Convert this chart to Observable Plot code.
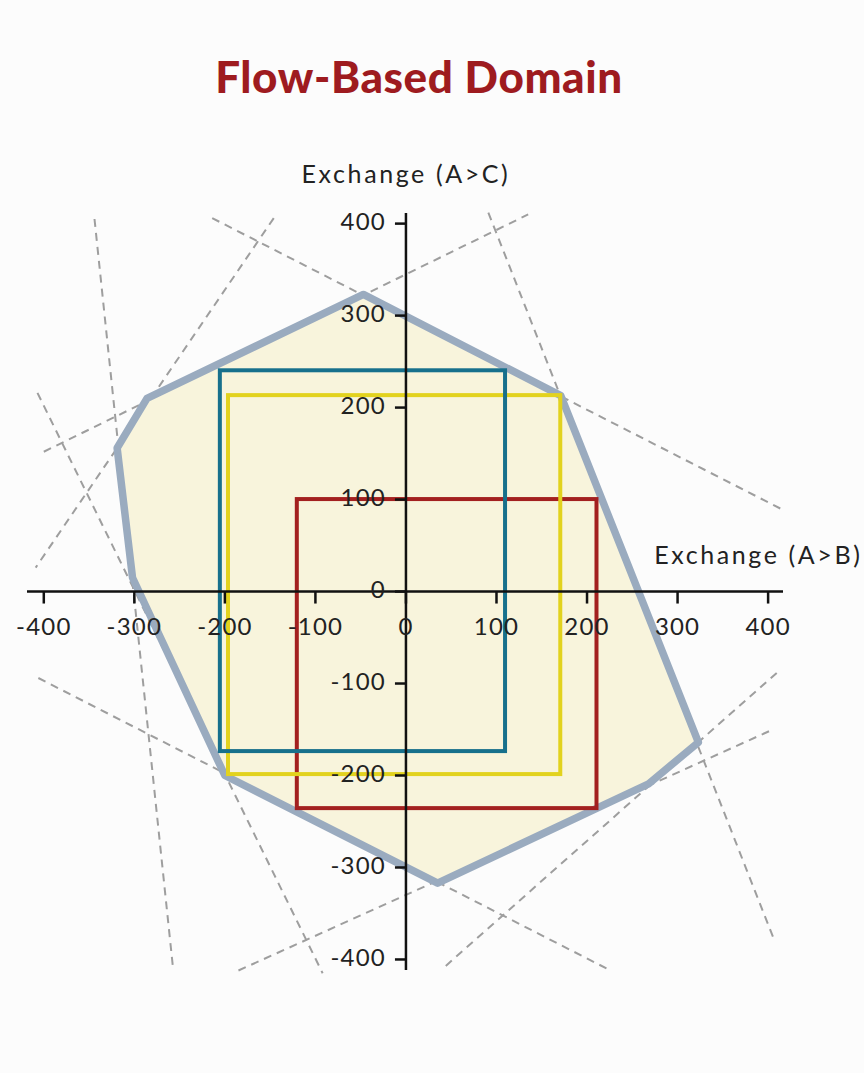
<!DOCTYPE html>
<html>
<head>
<meta charset="utf-8">
<script src="https://cdn.jsdelivr.net/npm/d3@7"></script>
<script src="https://cdn.jsdelivr.net/npm/@observablehq/plot@0.6"></script>
<style>
  html, body { margin: 0; padding: 0; background: #fcfcfc; }
  #wrap { position: relative; width: 864px; height: 1073px; overflow: hidden; }
  #title { position: absolute; left: 0; top: 51px; width: 838px; text-align: center;
           font-family: Lato, "Open Sans", sans-serif; font-weight: 900; font-size: 44px;
           letter-spacing: 0.6px; line-height: 50px; color: #9e1b1f; }
  #chart { position: absolute; left: 0; top: 130px; }
  #chart svg text { letter-spacing: 1.2px; }
  #chart svg .axislabel text { letter-spacing: 2.6px; }
</style>
</head>
<body>
<div id="wrap">
  <div id="title">Flow-Based Domain</div>
  <div id="chart"></div>
</div>
<script>
// ---- data ----
const xTicks = [-400, -300, -200, -100, 0, 100, 200, 300, 400];
const yTicks = [-400, -300, -200, -100, 0, 100, 200, 300, 400];
const xLabel = "Exchange (A>B)";
const yLabel = "Exchange (A>C)";

// flow-based domain polygon vertices
const polyX = [-47, 171, 323, 268, 35, -200, -302, -319, -286];
const polyY = [323, 213, -164, -209, -317, -200, 15, 156, 210];

// constraint lines (dashed), endpoints
const lineX1 = [-344, -407, -214, -146, -400, 91, -406, -185, 44];
const lineY1 = [405, 216, 406, 406, 152, 412, -94, -412, -407];
const lineX2 = [-257, -92, 414, -409, 135, 406, 222, 403, 410];
const lineY2 = [-412, -415, 90, 26, 410, -377, -410, -151, -88];

// boxes
const boxNames = ["red", "yellow", "blue"];
const boxX1 = [-120, -196, -205];
const boxX2 = [211, 171, 110];
const boxY1 = [-236, -199, -174];
const boxY2 = [100, 213, 240];
const boxColors = ["#a3201f", "#e2d21e", "#17708c"];

// ---- build tables ----
const poly = polyX.map((x, i) => ({x, y: polyY[i]}));
const lines = lineX1.map((x1, i) => ({x1, y1: lineY1[i], x2: lineX2[i], y2: lineY2[i]}));
const boxes = boxNames.map((name, i) => ({name, x1: boxX1[i], x2: boxX2[i], y1: boxY1[i], y2: boxY2[i], color: boxColors[i]}));

const tickDown = {draw(ctx) { ctx.moveTo(0, 0); ctx.lineTo(0, 12); }};
const tickLeft = {draw(ctx) { ctx.moveTo(0, 0); ctx.lineTo(-11, 0); }};

const font = "Lato, 'Open Sans', sans-serif";

const chart = Plot.plot({
  width: 864,
  height: 943,
  marginLeft: 27,
  marginRight: 81,
  marginTop: 83,
  marginBottom: 103,
  x: {domain: [-418, 417], axis: null},
  y: {domain: [-412, 411], axis: null},
  style: {background: "transparent", fontFamily: font, overflow: "visible"},
  marks: [
    Plot.link(lines, {x1: "x1", y1: "y1", x2: "x2", y2: "y2", stroke: "#9e9e9e", strokeWidth: 2, strokeDasharray: "8,6"}),
    Plot.line(poly, {x: "x", y: "y", curve: "linear-closed", fill: "#f8f4dc", stroke: "#9aabbf", strokeWidth: 7.5, strokeLinejoin: "round"}),
    ...boxes.map(b => Plot.rect([b], {x1: "x1", x2: "x2", y1: "y1", y2: "y2", fill: "none", stroke: b.color, strokeWidth: 4})),
    Plot.ruleY([0], {stroke: "#111", strokeWidth: 2.5}),
    Plot.ruleX([0], {stroke: "#111", strokeWidth: 2.5}),
    Plot.dot(xTicks, {x: d => d, y: 0, symbol: tickDown, fill: "none", stroke: "#111", strokeWidth: 2.5}),
    Plot.dot(yTicks, {x: 0, y: d => d, symbol: tickLeft, fill: "none", stroke: "#111", strokeWidth: 2.5}),
    Plot.text(xTicks, {x: d => d, y: 0, text: d => String(d), dy: 36, fontSize: 24, fill: "#222"}),
    Plot.text(yTicks, {x: 0, y: d => d, text: d => String(d), textAnchor: "end", dx: -20, dy: -1, fontSize: 24, fill: "#222"}),
    Plot.text([yLabel], {x: 0, frameAnchor: "top", text: d => d, dy: -48, fontSize: 25, fill: "#222", className: "axislabel"}),
    Plot.text([xLabel], {y: 0, frameAnchor: "right", text: d => d, textAnchor: "end", dx: 79, dy: -36, fontSize: 25, fill: "#222", className: "axislabel"})
  ]
});
document.getElementById("chart").appendChild(chart);
</script>
</body>
</html>
